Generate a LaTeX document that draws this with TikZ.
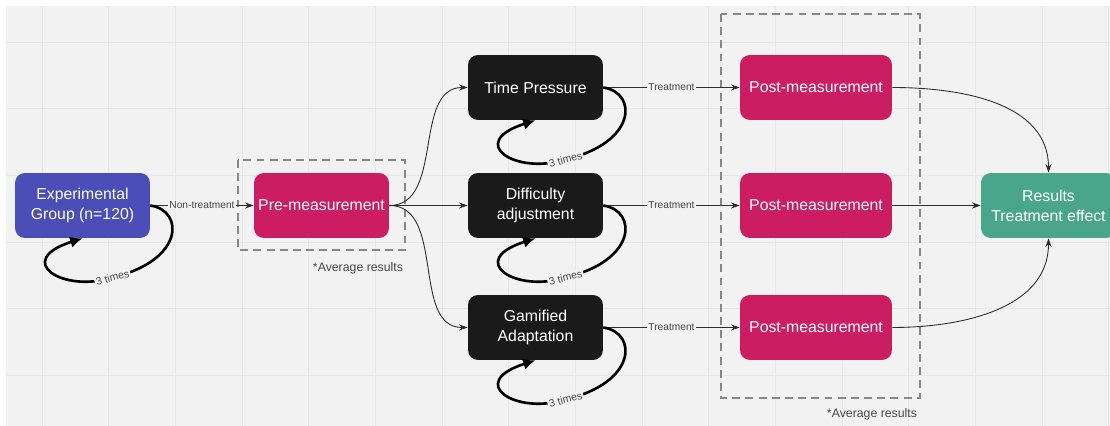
\documentclass[tikz,border=0pt]{standalone}
\usepackage{fontspec}
\setmainfont{Liberation Sans}
\usetikzlibrary{arrows.meta}
\definecolor{bgc}{RGB}{242,242,242}
\definecolor{gridc}{RGB}{231,231,231}
\definecolor{blu}{RGB}{76,78,184}
\definecolor{mag}{RGB}{204,29,99}
\definecolor{blk}{RGB}{26,26,26}
\definecolor{grn}{RGB}{74,166,136}
\definecolor{dashc}{RGB}{135,135,135}
\definecolor{linec}{RGB}{45,45,45}
\definecolor{labc}{RGB}{70,70,70}
\newcommand\timesloop[1]{%
  \begin{scope}[shift={(#1.center)}]
    \draw[loopline] (#1.east) .. controls (102,5) and (102,55) .. (30,72)
      node[looplabel]{3 times}
      .. controls (-20,88) and (-70,55) .. (#1.south);
  \end{scope}}
\begin{document}
\begin{tikzpicture}[x=0.02cm,y=-0.02cm,
  box/.style={rounded corners=0.2cm, minimum width=2.7cm, minimum height=1.3cm,
    text=white, align=center, font=\fontsize{9}{11.5}\selectfont, inner sep=0pt},
  postbox/.style={box, fill=mag, minimum width=3.04cm},
  dashbox/.style={draw=dashc, line width=0.85pt, dash pattern=on 4.5pt off 3pt},
  conn/.style={draw=linec, line width=0.5pt, -{Stealth[length=5pt,width=3.5pt]}},
  elabel/.style={fill=bgc, inner sep=1pt, text=labc, font=\fontsize{5.8}{6.5}\selectfont},
  looplabel/.style={fill=bgc, inner sep=0.8pt, text=labc, rotate=15, font=\fontsize{6}{7}\selectfont},
  loopline/.style={draw=black, line width=1.5pt, -{Latex[length=7pt,width=6.5pt]}},
  note/.style={text=labc, font=\fontsize{7}{8}\selectfont, inner sep=0pt}]
\useasboundingbox (0,0) rectangle (1110,426);
\clip (0,0) rectangle (1110,426);
\fill[white] (0,0) rectangle (1110,426);
\fill[bgc] (6,6) rectangle (1110,426);
\foreach \i in {0,...,16} \draw[gridc, line width=0.5pt] ({42+\i*66.667},6) -- ({42+\i*66.667},426);
\foreach \j in {0,...,5} \draw[gridc, line width=0.5pt] (6,{42+\j*66.667}) -- (1110,{42+\j*66.667});

% dashed groups
\draw[dashbox] (238,160) rectangle (405,250);
\draw[dashbox] (721,14) rectangle (920,398);
\node[note] (avg1) at (358,268) {*Average results};
\node[note] (avg2) at (872,414) {*Average results};

% nodes
\node[box, fill=blu] (exp) at (82.5,205.5) {Experimental\\Group (n=120)};
\node[box, fill=mag] (pre) at (321.5,205.5) {Pre-measurement};
\node[box, fill=blk] (tp) at (535.5,87.5) {Time Pressure};
\node[box, fill=blk] (da) at (535.5,205.5) {Difficulty\\adjustment};
\node[box, fill=blk] (ga) at (535.5,327.5) {Gamified\\Adaptation};
\node[postbox] (p1) at (816,87.5) {Post-measurement};
\node[postbox] (p2) at (816,205.5) {Post-measurement};
\node[postbox] (p3) at (816,327.5) {Post-measurement};
\node[box, fill=grn] (res) at (1048.5,205.5) {Results\\Treatment effect};

% connectors
\draw[conn] (exp) -- node[elabel]{Non-treatment} (pre);
\draw[conn] (pre.east) to[out=0,in=180] (tp.west);
\draw[conn] (pre) -- (da);
\draw[conn] (pre.east) to[out=0,in=180] (ga.west);
\draw[conn] (tp) -- node[elabel]{Treatment} (p1);
\draw[conn] (da) -- node[elabel]{Treatment} (p2);
\draw[conn] (ga) -- node[elabel]{Treatment} (p3);
\draw[conn] (p1.east) to[out=0,in=90] (res.north);
\draw[conn] (p2) -- (res);
\draw[conn] (p3.east) to[out=0,in=-90] (res.south);

% loops
\timesloop{exp}
\timesloop{tp}
\timesloop{da}
\timesloop{ga}
\end{tikzpicture}
\end{document}
